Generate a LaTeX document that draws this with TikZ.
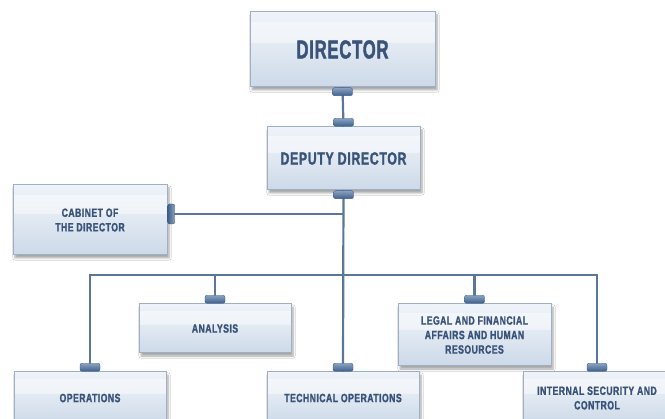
\documentclass[tikz,border=0pt]{standalone}
\usepackage{fontspec}
\setmainfont{Liberation Sans}
\newfontfamily\fsmall[FakeStretch=0.72,FakeBold=1.6,LetterSpace=4,UprightFont={* Bold}]{Liberation Sans}
\newfontfamily\fdep[FakeStretch=0.70,FakeBold=1.6,LetterSpace=4,UprightFont={* Bold}]{Liberation Sans}
\newfontfamily\fdir[FakeStretch=0.64,FakeBold=1.6,LetterSpace=3,UprightFont={* Bold}]{Liberation Sans}
\usetikzlibrary{calc,shadows.blur}
\definecolor{txtc}{HTML}{3A5479}
\definecolor{bordc}{HTML}{9FB0C4}
\definecolor{linec}{HTML}{5B7696}
\definecolor{boxtop}{HTML}{EEF3F9}
\definecolor{boxmid}{HTML}{E0E8F2}
\definecolor{boxbot}{HTML}{CCD9E8}
\definecolor{knobtop}{HTML}{8AA2C0}
\definecolor{knobbot}{HTML}{3F5F8A}
\tikzset{
  orgbox/.style={rectangle, draw=bordc, line width=1pt, align=center,
    text=txtc, inner sep=2pt,
    top color=boxtop, bottom color=boxbot, middle color=boxmid,
    blur shadow={shadow xshift=2pt, shadow yshift=-3pt, shadow blur steps=6, shadow opacity=35},
    path picture={\fill[white,opacity=0.45]
      ($(path picture bounding box.north west)!0.14!(path picture bounding box.south west)$)
      rectangle
      ($(path picture bounding box.north east)!0.42!(path picture bounding box.south east)$);}},
  smallbox/.style={orgbox, minimum width=152pt, minimum height=52pt,
    font=\fsmall\fontsize{12}{14.5}\selectfont},
  conn/.style={draw=linec, line width=2.2pt},
  knobv/.style={rectangle, rounded corners=2pt, minimum width=20pt, minimum height=8pt,
    inner sep=0pt, top color=knobtop, bottom color=knobbot, draw=knobbot, line width=0.4pt},
  knobh/.style={rectangle, rounded corners=2pt, minimum width=7pt, minimum height=20pt,
    inner sep=0pt, left color=knobbot, right color=knobtop, draw=knobbot, line width=0.4pt}
}
\begin{document}
\begin{tikzpicture}[x=1pt,y=-1pt]
\useasboundingbox (0,0) rectangle (665,419);
\clip (0,0) rectangle (665,419);
\fill[white] (0,0) rectangle (665,419);

\node[orgbox, minimum width=185pt, minimum height=75pt,
  font=\fdir\fontsize{26}{29}\selectfont] (dir) at (342.5,49.5) {DIRECTOR};
\node[orgbox, minimum width=153pt, minimum height=63pt,
  font=\fdep\fontsize{17.5}{20}\selectfont] (dep) at (343.5,158.5) {DEPUTY DIRECTOR};
\node[smallbox, minimum width=154pt, minimum height=70pt] (cab) at (90,220) {CABINET OF\\THE DIRECTOR};
\node[smallbox, minimum height=49pt] (ana) at (215,328.5) {ANALYSIS};
\node[smallbox, minimum width=153pt, minimum height=62pt] (leg) at (474.5,335) {LEGAL AND FINANCIAL\\AFFAIRS AND HUMAN\\RESOURCES};
\node[smallbox] (ops) at (90,398) {OPERATIONS};
\node[smallbox] (tech) at (343,398) {TECHNICAL OPERATIONS};
\node[smallbox, minimum width=148pt] (int) at (597,398) {INTERNAL SECURITY AND\\CONTROL};

\coordinate (bus) at (342,275);
\coordinate (cabc) at ([yshift=6pt]cab.east);

\draw[conn] (dir.south) -- (dep.north);
\draw[conn] (dep.south) -- (tech.north);
\draw[conn] (cabc) -- (cabc -| dep.south);
\draw[conn] (ops.north) |- (bus) -| (int.north);
\draw[conn] (ana.north) |- (bus);
\draw[conn] (leg.north) |- (bus);

\node[knobv, anchor=north] (k1) at (dir.south) {};
\node[knobv, anchor=south] (k2) at (dep.north) {};
\node[knobv, anchor=north] (k3) at (dep.south) {};
\node[knobh, anchor=west] (k4) at (cabc) {};
\node[knobv, anchor=south] (k5) at (ana.north) {};
\node[knobv, anchor=south] (k6) at (leg.north) {};
\node[knobv, anchor=south] (k7) at (ops.north) {};
\node[knobv, anchor=south] (k8) at (tech.north) {};
\node[knobv, anchor=south] (k9) at (int.north) {};
\end{tikzpicture}
\end{document}
